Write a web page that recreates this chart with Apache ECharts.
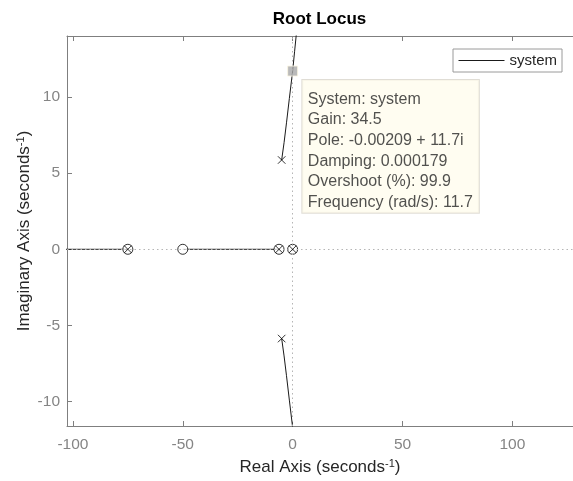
<!DOCTYPE html>
<html>
<head>
<meta charset="utf-8">
<script src="https://cdn.jsdelivr.net/npm/echarts@6/dist/echarts.min.js"></script>
<style>html,body{margin:0;padding:0;background:#fff}#c{width:573px;height:481px}</style>
</head>
<body>
<div id="c"></div>
<script>
// ---- data ----
const xRange = [-102.7, 127.6];
const yRange = [-11.6, 14];
const branchRealLeft = [[-300, 0], [-75, 0]];
const branchRealMid = [[-50, 0], [-6.2, 0]];
const branchUpper = [[-5, 5.86], [-3.9, 7.0], [-2.8, 8.3], [-1.5, 9.9], [0, 11.7], [0.9, 13.0], [1.8, 14.3]];
const branchLower = [[-5, -5.86], [-3.9, -7.0], [-2.8, -8.3], [-1.5, -9.9], [0, -11.7], [0.9, -13.0]];
const poles = [[-75, 0], [-6.2, 0], [0, 0], [-5, 5.86], [-5, -5.86]];
const zeros = [[-75, 0], [-50, 0], [-6.2, 0], [0, 0]];
const datatipPoint = [[-0.00209, 11.7]];
const datatipLines = ['System: system', 'Gain: 34.5', 'Pole: -0.00209 + 11.7i', 'Damping: 0.000179', 'Overshoot (%): 99.9', 'Frequency (rad/s): 11.7'];

const FONT = "'Liberation Sans', Arial, Helvetica, sans-serif";
const AXC = '#7f7f7f';
const TXT = '#262626';
const LINEC = '#1a1a1a';

const chart = echarts.init(document.getElementById('c'), null, {renderer: 'canvas'});
const supRich = {sup: {fontSize: 11, fontFamily: FONT, color: TXT, verticalAlign: 'top', padding: [0, 0, 8, 0]}};

function lineSeries(name, data) {
  return {type: 'line', name: name, data: data, symbol: 'none', clip: true,
    lineStyle: {color: LINEC, width: 1}, itemStyle: {color: LINEC}, z: 2, silent: true};
}

const option = {
  animation: false,
  backgroundColor: '#ffffff',
  title: {text: 'Root Locus', left: 314.5, top: 6, textAlign: 'center',
    textStyle: {fontFamily: FONT, fontSize: 17, fontWeight: 'bold', color: '#000'}},
  legend: {data: ['system'], left: 453, top: 49, orient: 'vertical', padding: [4, 5, 4, 5],
    itemWidth: 46, itemHeight: 14, borderColor: '#9a9a9a', borderWidth: 1, backgroundColor: '#fff',
    itemStyle: {opacity: 0},
    lineStyle: {color: LINEC, width: 1, opacity: 1},
    textStyle: {fontFamily: FONT, fontSize: 15, color: TXT}},
  grid: {left: 67, top: 36, right: 0, bottom: 55, outerBoundsMode: 'none', containLabel: false},
  xAxis: [{
    type: 'value', min: xRange[0], max: xRange[1], position: 'bottom',
    name: 'Real Axis (seconds{sup|-1})', nameLocation: 'middle', nameGap: 32, nameMoveOverlap: false,
    nameTextStyle: {fontFamily: FONT, fontSize: 17, color: TXT, rich: supRich},
    axisLine: {show: true, onZero: false, lineStyle: {color: AXC, width: 1}},
    axisTick: {show: true, inside: true, length: 5, lineStyle: {color: AXC}},
    axisLabel: {fontFamily: FONT, fontSize: 15.5, color: '#858585', margin: 11, showMinLabel: false, showMaxLabel: false},
    splitLine: {show: false}
  }, {
    type: 'value', min: xRange[0], max: xRange[1], position: 'top',
    axisLine: {show: true, onZero: false, lineStyle: {color: AXC, width: 1}},
    axisTick: {show: true, inside: true, length: 5, lineStyle: {color: AXC}},
    axisLabel: {show: false}, splitLine: {show: false}
  }],
  yAxis: [{
    type: 'value', min: yRange[0], max: yRange[1], position: 'left',
    name: 'Imaginary Axis (seconds{sup|-1})', nameLocation: 'middle', nameGap: 33, nameMoveOverlap: false,
    nameTextStyle: {fontFamily: FONT, fontSize: 17, color: TXT, rich: supRich},
    axisLine: {show: true, onZero: false, lineStyle: {color: AXC, width: 1}},
    axisTick: {show: true, inside: true, length: 5, lineStyle: {color: AXC}},
    axisLabel: {fontFamily: FONT, fontSize: 15.5, color: '#858585', margin: 7, showMinLabel: false, showMaxLabel: false},
    splitLine: {show: false}
  }],
  series: [
    Object.assign(lineSeries('system', branchUpper), {
      markLine: {silent: true, symbol: 'none', label: {show: false},
        lineStyle: {color: '#b5b5b5', type: [1.5, 3], width: 1},
        data: [{xAxis: 0}, {yAxis: 0}]}
    }),
    lineSeries('system', branchLower),
    lineSeries('system', branchRealLeft),
    lineSeries('system', branchRealMid),
    {type: 'scatter', name: 'zeros', data: zeros, symbol: 'circle', symbolSize: 10, z: 4, silent: true,
      itemStyle: {color: '#ffffff', borderColor: '#000', borderWidth: 1}},
    {type: 'scatter', name: 'poles', data: poles, symbol: 'path://M0,0L10,10M0,10L10,0', symbolSize: 7.5, z: 5, silent: true,
      itemStyle: {color: 'rgba(0,0,0,0)', borderColor: '#000', borderWidth: 1}},
    {type: 'scatter', name: 'datatip', data: datatipPoint, symbol: 'rect', symbolSize: 10, z: 6, silent: true,
      itemStyle: {color: '#a8a8a8', borderColor: '#fdf8e4', borderWidth: 1},
      label: {show: true, position: [15.2, 14.5], align: 'left', verticalAlign: 'top',
        formatter: () => datatipLines.join('\n'),
        fontFamily: FONT, fontSize: 16, lineHeight: 20.6, color: TXT,
        backgroundColor: '#fffcee', borderColor: '#d8d5cb', borderWidth: 1,
        padding: [9, 5, 0, 5.5], width: 166}}
  ]
};
chart.setOption(option);
</script>
</body>
</html>
